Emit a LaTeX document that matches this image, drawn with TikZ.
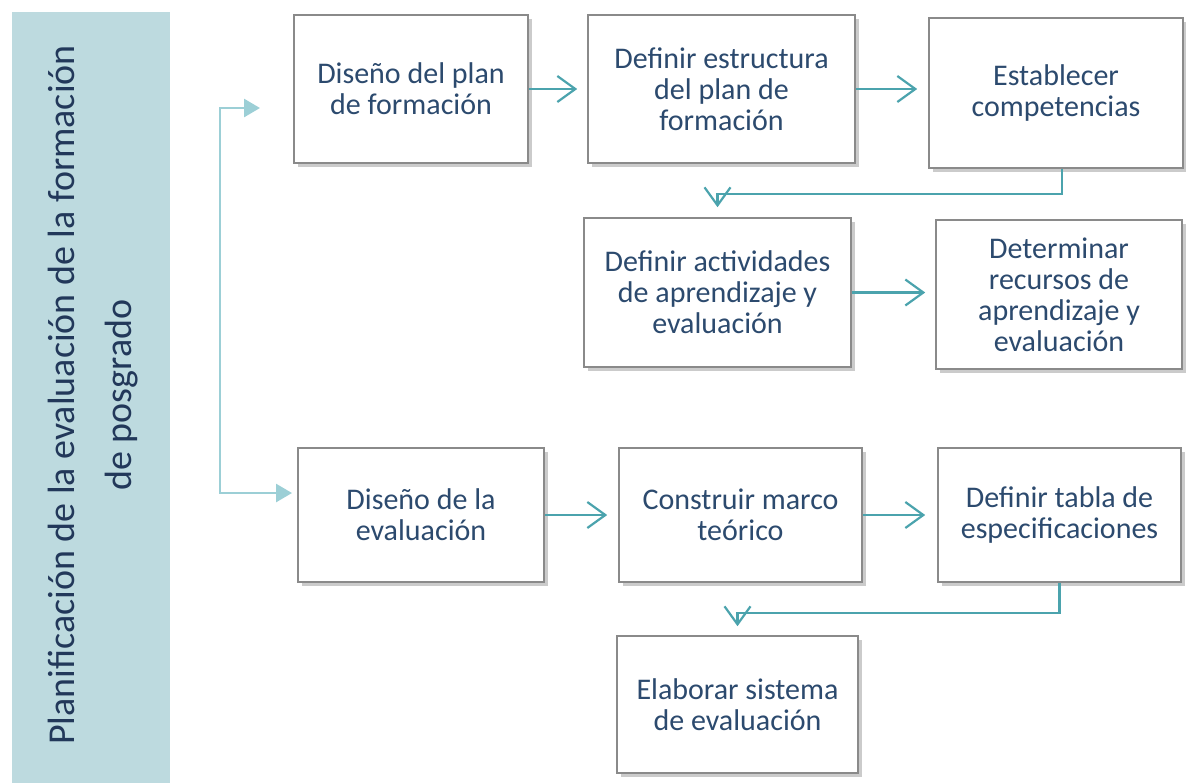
\documentclass[tikz,border=0pt]{standalone}
\usepackage{fontspec}
\setmainfont{Carlito}
\usepackage{tikz}
\usetikzlibrary{arrows.meta,shadows}
\definecolor{panelfill}{HTML}{BDDADF}
\definecolor{navy}{HTML}{2C4A6E}
\definecolor{darknavy}{HTML}{22385A}
\definecolor{teal500}{HTML}{4BA3AD}
\definecolor{teal200}{HTML}{9CCFD6}
\definecolor{gray500}{HTML}{8A8A8A}
\tikzstyle{paso}=[rectangle, draw=gray500, line width=0.8pt, fill=white, text=navy, align=center,
  font=\fontsize{15}{15.5}\selectfont,
  drop shadow={shadow xshift=1.8pt, shadow yshift=-1.8pt, fill=black!45, opacity=0.45}]
\tikzstyle{flujo}=[draw=teal500, line width=1.1pt, -{Straight Barb[length=9pt,width=13pt,line width=1.1pt]}]
\tikzstyle{llave}=[draw=teal200, line width=1.4pt, -{Triangle[length=8pt,width=9pt]}]

\begin{document}
\begin{tikzpicture}[x=0.5pt, y=-0.5pt]
	\useasboundingbox (0,0) rectangle (1186,783);
	\fill[panelfill] (12,12) rectangle (170,783);
	\node[rotate=90, text=darknavy, align=center, font=\fontsize{19}{28.5}\selectfont] (titulo) at (93,395)
		{Planificación de la evaluación de la formación\\de posgrado};

	\node[paso, minimum width=117pt, minimum height=74pt] (b1) at (411,89) {Diseño del plan\\de formación};
	\node[paso, minimum width=133.5pt, minimum height=74pt] (b2) at (721.5,89) {Definir estructura\\del plan de\\formación};
	\node[paso, minimum width=127pt, minimum height=75pt] (b3) at (1056,93) {Establecer\\competencias};
	\node[paso, minimum width=133.5pt, minimum height=74.5pt] (b4) at (717.5,292.5) {Definir actividades\\de aprendizaje y\\evaluación};
	\node[paso, minimum width=123pt, minimum height=74.5pt] (b5) at (1059,294.5) {Determinar\\recursos de\\aprendizaje y\\evaluación};
	\node[paso, minimum width=123pt, minimum height=67pt] (b6) at (421,515) {Diseño de la\\evaluación};
	\node[paso, minimum width=121.5pt, minimum height=67pt] (b7) at (740.5,515) {Construir marco\\teórico};
	\node[paso, minimum width=121.5pt, minimum height=67pt] (b8) at (1059.5,515) {Definir tabla de\\especificaciones};
	\node[paso, minimum width=120.5pt, minimum height=68.5pt] (b9) at (737.5,704.5) {Elaborar sistema\\de evaluación};

	% llave de la izquierda
	\coordinate (k) at (220,300);
	\coordinate (kt) at (260,108);
	\coordinate (kb) at (292,493);
	\draw[llave] (k) |- (kt);
	\draw[llave] (k) |- (kb);

	% flechas
	\draw[flujo, shorten >=5pt] (b1.east) -- (b1.east -| b2.west);
	\draw[flujo, shorten >=5.5pt] (b2.east) -- (b2.east -| b3.west);
	\draw[flujo, shorten >=5pt] ([xshift=3pt]b3.south) -- ++(0,25) -| (b4.north);
	\draw[flujo, shorten >=5pt] (b4.east) -- (b4.east -| b5.west);
	\draw[flujo, shorten >=5.5pt] (b6.east) -- (b6.east -| b7.west);
	\draw[flujo, shorten >=6pt] (b7.east) -- (b7.east -| b8.west);
	\draw[flujo, shorten >=4.5pt] (b8.south) -- ++(0,30) -| (b9.north);
\end{tikzpicture}
\end{document}
